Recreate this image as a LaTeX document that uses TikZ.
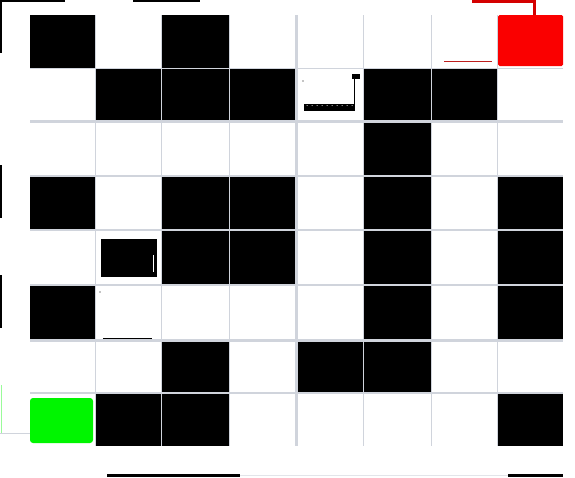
\documentclass[tikz,border=0pt]{standalone}
\usetikzlibrary{patterns}
\definecolor{gridgray}{RGB}{208,212,220}
\definecolor{goalred}{RGB}{250,0,0}
\definecolor{darkred}{RGB}{190,30,30}
\definecolor{startgreen}{RGB}{0,245,0}
\tikzset{
  wall/.style={fill=black},
  gline/.style={draw=gridgray,line width=1pt},
  gthick/.style={draw=gridgray,line width=3pt},
  artifact/.style={fill=black},
}
\begin{document}
\begin{tikzpicture}[x=1pt,y=-1pt]
\useasboundingbox[fill=white] (0,0) rectangle (575,477);
% wall cells
\foreach \xa/\ya/\xb/\yb in {
  30/15/95/68, 161/15/229/68,
  95/68/161/121, 161/68/229/121, 229/68/296/121, 363/68/431/121, 431/68/497/121,
  363/121/431/176,
  30/176/95/230, 161/176/229/230, 229/176/296/230, 363/176/431/230, 497/176/563/230,
  161/230/229/285, 229/230/296/285, 363/230/431/285, 497/230/563/285,
  30/285/95/340, 363/285/431/340, 497/285/563/340,
  161/340/229/393, 296/340/363/393, 363/340/431/393,
  95/393/161/446, 161/393/229/446, 497/393/563/446}
  \fill[wall] (\xa,\ya) rectangle (\xb,\yb);
% small block in row 4, col 1
\fill[wall] (101,239) rectangle (157,277);
\draw[white,line width=0.8pt] (153.5,255) -- (153.5,272);
% mark in row 5, col 1
\draw[black,line width=1.5pt] (103,339) -- (152,339);
\fill (100,292) circle (0.7);
% grid lines
\foreach \x in {95,161,229,363,431,497}
  \draw[gline] (\x,15) -- (\x,446);
\draw[gthick] (296,15) -- (296,446);
\foreach \y in {68}
  \draw[gline] (30,\y) -- (563,\y);
\foreach \y in {176,230,285,393}
  \draw[gridgray,line width=2pt] (30,\y) -- (563,\y);
\foreach \y in {121,340}
  \draw[gthick] (30,\y) -- (563,\y);
% goal and start
\fill[goalred,rounded corners=1.5pt] (498,15) rectangle (563,66);
\fill[startgreen,rounded corners=3pt] (30,398) rectangle (93,443);
% flag in row 1, col 4
\fill[black] (304,104) rectangle (355,111);
\foreach \k in {0,...,9} \fill[white] (307+5*\k,105.5) circle (0.5);
\draw[black,line width=1pt] (354,76) -- (354,108);
\fill[black] (352,74) rectangle (360,79);
\fill (303,81) circle (0.6);
% stray marks
\draw[darkred,line width=1.2pt] (444,61.5) -- (492,61.5);
\fill[goalred!85!black] (472,0) rectangle (535,3);
\fill[goalred!85!black] (533,0) rectangle (536,15);
\fill[artifact] (0,0) rectangle (65,2);
\fill[artifact] (133,0) rectangle (200,2);
\fill[artifact] (0,0) rectangle (2,53);
\fill[artifact] (0,165) rectangle (2,218);
\fill[artifact] (0,275) rectangle (2,328);
\fill[artifact] (107,474) rectangle (240,477);
\fill[artifact] (508,474) rectangle (563,477);
\draw[startgreen!40,line width=0.8pt] (1,385) -- (1,433);
\draw[gridgray,line width=0.6pt] (0,433) -- (30,433);
\draw[gridgray!60,line width=0.6pt] (240,475.5) -- (508,475.5);
\end{tikzpicture}
\end{document}
